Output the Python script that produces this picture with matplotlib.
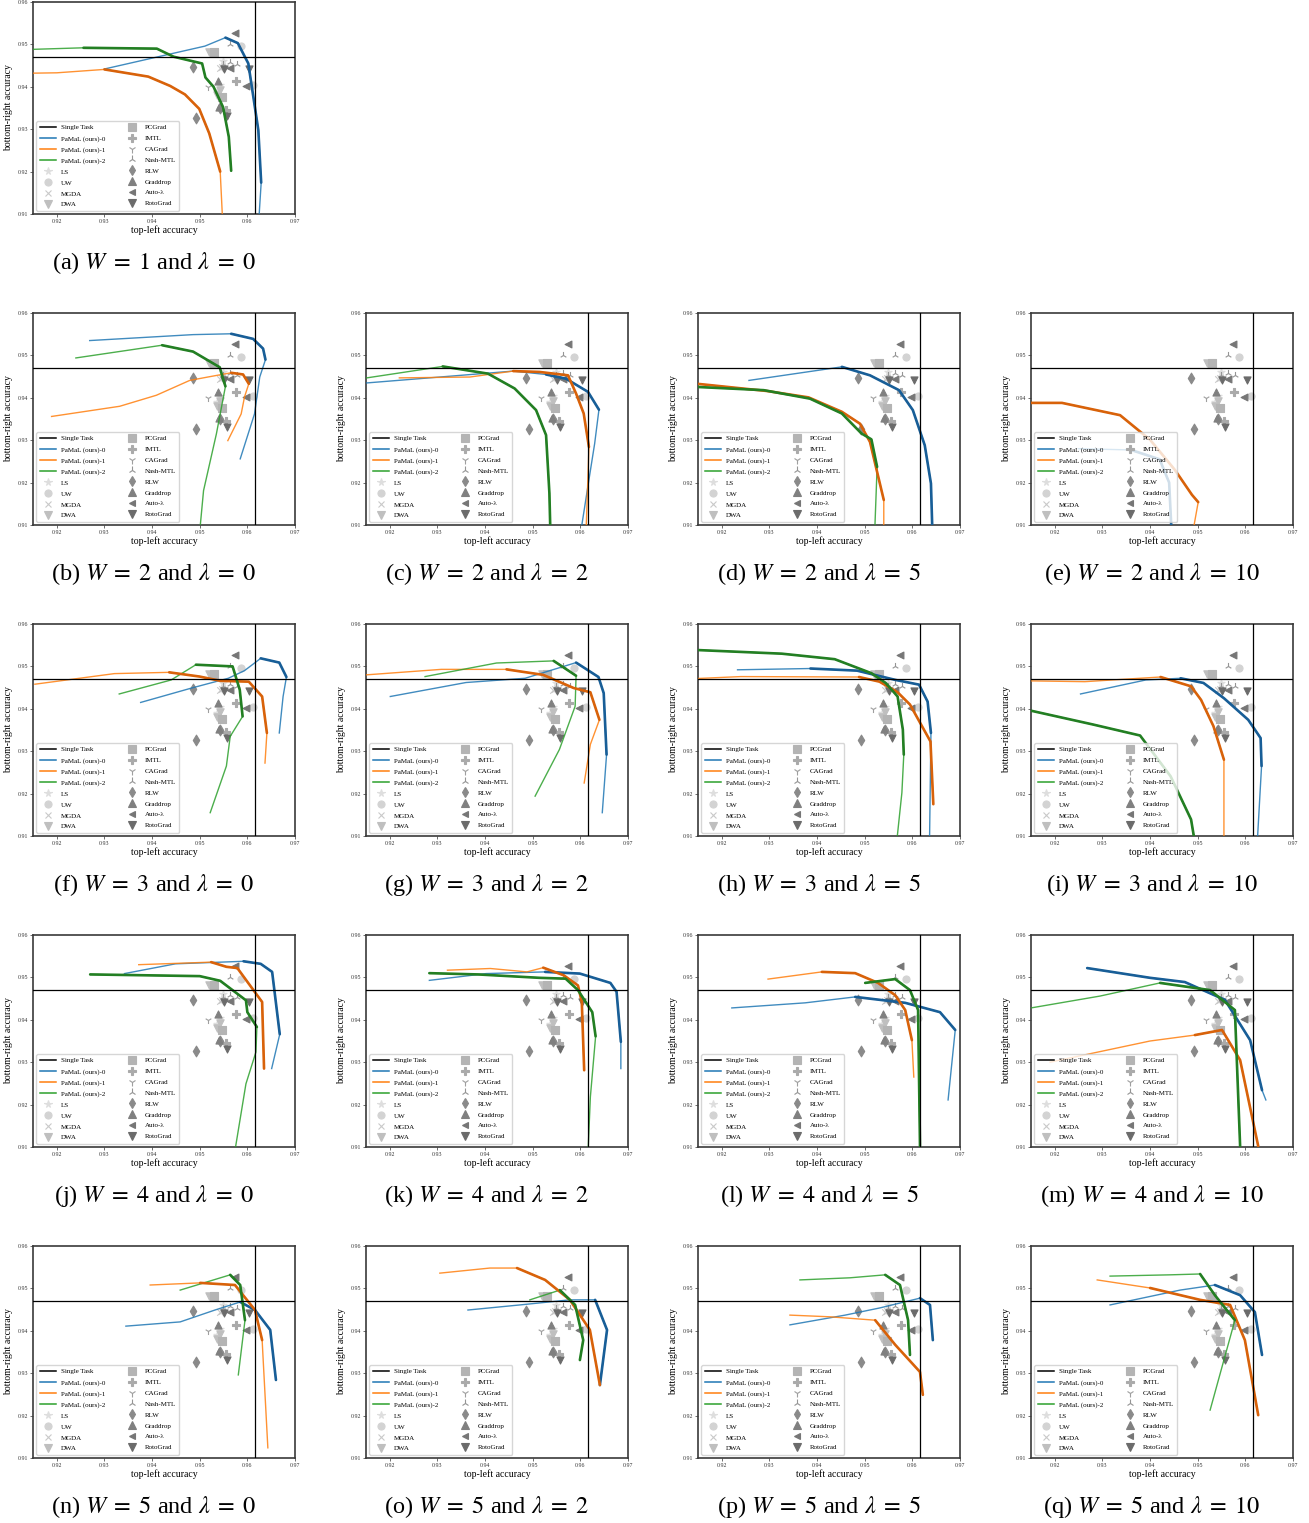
import numpy as np
import matplotlib
matplotlib.use("Agg")
import matplotlib.pyplot as plt
from matplotlib.lines import Line2D

plt.rcParams["font.family"] = ["Liberation Serif", "DejaVu Serif"]
plt.rcParams["mathtext.fontset"] = "stix"

# ------------------------------------------------------------------
# Reference accuracies
# ------------------------------------------------------------------
SINGLE_TASK_X = 0.9616   # top-left accuracy of the single-task model
SINGLE_TASK_Y = 0.9471   # bottom-right accuracy of the single-task model

# Baseline methods (top-left acc, bottom-right acc)
LS_PTS = [(0.9548, 0.9462), (0.9542, 0.9405), (0.9537, 0.9390)]
UW_PTS = [(0.9587, 0.9497), (0.9611, 0.9404)]
MGDA_PTS = [(0.9542, 0.9444), (0.9546, 0.9447)]
DWA_PTS = [(0.9519, 0.9481), (0.9543, 0.9393), (0.9536, 0.9381)]
PCGRAD_PTS = [(0.9531, 0.9483), (0.9547, 0.9375)]
IMTL_PTS = [(0.9577, 0.9414), (0.9555, 0.9346)]
CAGRAD_PTS = [(0.9517, 0.9399)]
NASH_PTS = [(0.9563, 0.9501), (0.9563, 0.9459), (0.9578, 0.9454), (0.9549, 0.9454)]
RLW_PTS = [(0.9486, 0.9447), (0.9493, 0.9327), (0.9543, 0.9350)]
GRADDROP_PTS = [(0.9538, 0.9413), (0.9540, 0.9353)]
AUTOL_PTS = [(0.9573, 0.9528), (0.9564, 0.9445), (0.9597, 0.9401)]
ROTOGRAD_PTS = [(0.9552, 0.9442), (0.9603, 0.9442), (0.9557, 0.9332)]

METHOD_NAMES = ["LS", "UW", "MGDA", "DWA", "PCGrad", "IMTL", "CAGrad",
                "Nash-MTL", "RLW", "Graddrop", "Auto-λ", "RotoGrad"]

# ------------------------------------------------------------------
# PaMaL curves: points along each task-weight path, plus the index
# range of the points that lie inside the trained simplex.
# ------------------------------------------------------------------
PANEL_LETTERS = list("abcdefghijklmnopq")
W_VALUES = [1, 2, 2, 2, 2, 3, 3, 3, 3, 4, 4, 4, 4, 5, 5, 5, 5]
LAMBDA_VALUES = [0, 0, 2, 5, 10, 0, 2, 5, 10, 0, 2, 5, 10, 0, 2, 5, 10]

a_0 = [(0.9300, 0.9442), (0.9511, 0.9496), (0.9554, 0.9516), (0.9580, 0.9503), (0.9602, 0.9455),
       (0.9623, 0.9298), (0.9629, 0.9174), (0.9624, 0.9085)]
a_1 = [(0.9140, 0.9432), (0.9200, 0.9433), (0.9300, 0.9441), (0.9392, 0.9424), (0.9438, 0.9402),
       (0.9469, 0.9382), (0.9499, 0.9348), (0.9520, 0.9290), (0.9543, 0.9200), (0.9548, 0.9085)]
a_2 = [(0.9140, 0.9488), (0.9256, 0.9492), (0.9410, 0.9490), (0.9445, 0.9471), (0.9505, 0.9455),
       (0.9512, 0.9422), (0.9529, 0.9400), (0.9549, 0.9352), (0.9561, 0.9282), (0.9566, 0.9202)]
a_in = [(2, 6), (2, 8), (1, 9)]

b_0 = [(0.9269, 0.9535), (0.9486, 0.9549), (0.9566, 0.9551), (0.9612, 0.9539), (0.9633, 0.9516),
       (0.9638, 0.9490), (0.9626, 0.9449), (0.9615, 0.9362), (0.9585, 0.9256)]
b_1 = [(0.9189, 0.9356), (0.9332, 0.9380), (0.9409, 0.9406), (0.9479, 0.9441), (0.9517, 0.9449),
       (0.9566, 0.9459), (0.9591, 0.9455), (0.9603, 0.9433), (0.9594, 0.9402), (0.9587, 0.9362),
       (0.9559, 0.9299)]
b_2 = [(0.9240, 0.9494), (0.9421, 0.9524), (0.9486, 0.9509), (0.9542, 0.9472), (0.9550, 0.9441),
       (0.9554, 0.9427), (0.9535, 0.9315), (0.9508, 0.9181), (0.9500, 0.9085)]
b_in = [(2, 5), (5, 7), (1, 5)]

c_0 = [(0.9140, 0.9434), (0.9305, 0.9449), (0.9459, 0.9463), (0.9528, 0.9455), (0.9570, 0.9445),
       (0.9616, 0.9414), (0.9639, 0.9372), (0.9630, 0.9292), (0.9619, 0.9214), (0.9601, 0.9085)]
c_1 = [(0.9220, 0.9447), (0.9368, 0.9449), (0.9459, 0.9463), (0.9514, 0.9461), (0.9574, 0.9453),
       (0.9591, 0.9410), (0.9607, 0.9363), (0.9618, 0.9284), (0.9612, 0.9085)]
c_2 = [(0.9140, 0.9445), (0.9311, 0.9474), (0.9406, 0.9457), (0.9462, 0.9422), (0.9507, 0.9371),
       (0.9528, 0.9312), (0.9535, 0.9175), (0.9537, 0.9085)]
c_in = [(3, 6), (2, 7), (1, 7)]

d_0 = [(0.9257, 0.9441), (0.9452, 0.9473), (0.9511, 0.9453), (0.9572, 0.9418), (0.9601, 0.9371),
       (0.9626, 0.9288), (0.9639, 0.9198), (0.9642, 0.9085)]
d_1 = [(0.9140, 0.9434), (0.9295, 0.9416), (0.9382, 0.9401), (0.9452, 0.9367), (0.9490, 0.9339),
       (0.9511, 0.9296), (0.9540, 0.9159), (0.9540, 0.9085)]
d_2 = [(0.9140, 0.9426), (0.9288, 0.9418), (0.9385, 0.9398), (0.9452, 0.9363), (0.9493, 0.9316),
       (0.9514, 0.9302), (0.9526, 0.9237), (0.9521, 0.9085)]
d_in = [(1, 7), (0, 6), (0, 6)]

e_0 = [(0.9250, 0.9280), (0.9360, 0.9277), (0.9420, 0.9255), (0.9440, 0.9200), (0.9445, 0.9085)]
e_1 = [(0.9140, 0.9388), (0.9215, 0.9388), (0.9337, 0.9359), (0.9400, 0.9301), (0.9452, 0.9230),
       (0.9488, 0.9171), (0.9501, 0.9154), (0.9490, 0.9085)]
e_2 = []
e_in = [(1, 4), (0, 6), (0, 0)]

f_0 = [(0.9376, 0.9415), (0.9483, 0.9449), (0.9560, 0.9472), (0.9594, 0.9490), (0.9628, 0.9519),
       (0.9667, 0.9509), (0.9682, 0.9475), (0.9675, 0.9429), (0.9667, 0.9343)]
f_1 = [(0.9154, 0.9458), (0.9321, 0.9483), (0.9436, 0.9486), (0.9500, 0.9476), (0.9543, 0.9466),
       (0.9603, 0.9464), (0.9631, 0.9429), (0.9641, 0.9343), (0.9637, 0.9272)]
f_2 = [(0.9331, 0.9435), (0.9440, 0.9468), (0.9492, 0.9504), (0.9569, 0.9500), (0.9584, 0.9445),
       (0.9590, 0.9382), (0.9564, 0.9335), (0.9556, 0.9265), (0.9522, 0.9155)]
f_in = [(4, 6), (2, 7), (2, 5)]

g_0 = [(0.9201, 0.9429), (0.9360, 0.9462), (0.9484, 0.9472), (0.9591, 0.9509), (0.9638, 0.9475),
       (0.9649, 0.9437), (0.9655, 0.9292), (0.9646, 0.9155)]
g_1 = [(0.9150, 0.9480), (0.9308, 0.9493), (0.9445, 0.9493), (0.9522, 0.9480), (0.9586, 0.9449),
       (0.9621, 0.9439), (0.9640, 0.9374), (0.9621, 0.9316), (0.9608, 0.9225)]
g_2 = [(0.9274, 0.9476), (0.9424, 0.9508), (0.9544, 0.9513), (0.9591, 0.9478), (0.9589, 0.9406),
       (0.9556, 0.9304), (0.9505, 0.9194)]
g_in = [(3, 6), (2, 6), (2, 3)]

h_0 = [(0.9233, 0.9492), (0.9386, 0.9495), (0.9484, 0.9490), (0.9565, 0.9468), (0.9614, 0.9457),
       (0.9632, 0.9417), (0.9639, 0.9343), (0.9636, 0.9085)]
h_1 = [(0.9140, 0.9471), (0.9240, 0.9476), (0.9488, 0.9475), (0.9531, 0.9464), (0.9569, 0.9439),
       (0.9595, 0.9410), (0.9638, 0.9323), (0.9644, 0.9175)]
h_2 = [(0.9140, 0.9539), (0.9326, 0.9530), (0.9437, 0.9517), (0.9514, 0.9484), (0.9544, 0.9461),
       (0.9569, 0.9429), (0.9580, 0.9351), (0.9582, 0.9292), (0.9578, 0.9202), (0.9567, 0.9085)]
h_in = [(1, 6), (2, 7), (0, 7)]

i_0 = [(0.9254, 0.9435), (0.9391, 0.9468), (0.9464, 0.9472), (0.9512, 0.9461), (0.9555, 0.9425),
       (0.9606, 0.9374), (0.9632, 0.9331), (0.9634, 0.9265), (0.9625, 0.9085)]
i_1 = [(0.9140, 0.9466), (0.9263, 0.9464), (0.9422, 0.9475), (0.9486, 0.9453), (0.9507, 0.9421),
       (0.9533, 0.9359), (0.9555, 0.9280), (0.9555, 0.9085)]
i_2 = [(0.9140, 0.9398), (0.9280, 0.9363), (0.9379, 0.9337), (0.9443, 0.9241), (0.9486, 0.9139),
       (0.9494, 0.9085)]
i_in = [(2, 7), (2, 6), (0, 5)]

j_0 = [(0.9342, 0.9509), (0.9449, 0.9532), (0.9592, 0.9538), (0.9628, 0.9532), (0.9652, 0.9513),
       (0.9668, 0.9366), (0.9651, 0.9285)]
j_1 = [(0.9372, 0.9530), (0.9524, 0.9536), (0.9556, 0.9525), (0.9579, 0.9522), (0.9603, 0.9485),
       (0.9631, 0.9442), (0.9635, 0.9285)]
j_2 = [(0.9270, 0.9507), (0.9500, 0.9503), (0.9543, 0.9492), (0.9597, 0.9446), (0.9600, 0.9418),
       (0.9620, 0.9383), (0.9618, 0.9324), (0.9597, 0.9249), (0.9573, 0.9085)]
j_in = [(2, 5), (1, 6), (0, 5)]

k_0 = [(0.9283, 0.9493), (0.9402, 0.9509), (0.9526, 0.9513), (0.9599, 0.9509), (0.9663, 0.9487),
       (0.9676, 0.9466), (0.9685, 0.9348), (0.9685, 0.9285)]
k_1 = [(0.9321, 0.9517), (0.9411, 0.9521), (0.9488, 0.9513), (0.9522, 0.9523), (0.9565, 0.9505),
       (0.9595, 0.9481), (0.9603, 0.9442), (0.9608, 0.9281)]
k_2 = [(0.9283, 0.9510), (0.9385, 0.9507), (0.9514, 0.9499), (0.9569, 0.9497), (0.9595, 0.9470),
       (0.9625, 0.9418), (0.9632, 0.9361), (0.9621, 0.9218), (0.9616, 0.9085)]
k_in = [(2, 6), (3, 7), (0, 6)]

l_0 = [(0.9221, 0.9428), (0.9375, 0.9440), (0.9480, 0.9454), (0.9585, 0.9440), (0.9658, 0.9418),
       (0.9690, 0.9376), (0.9675, 0.9211)]
l_1 = [(0.9297, 0.9496), (0.9410, 0.9513), (0.9480, 0.9510), (0.9528, 0.9487), (0.9564, 0.9458),
       (0.9585, 0.9423), (0.9599, 0.9352), (0.9603, 0.9265)]
l_2 = [(0.9501, 0.9487), (0.9564, 0.9496), (0.9595, 0.9470), (0.9612, 0.9423), (0.9616, 0.9102)]
l_in = [(2, 5), (1, 6), (0, 4)]

m_0 = [(0.9268, 0.9522), (0.9400, 0.9499), (0.9473, 0.9489), (0.9557, 0.9447), (0.9610, 0.9352),
       (0.9635, 0.9234), (0.9643, 0.9211)]
m_1 = [(0.9190, 0.9300), (0.9400, 0.9350), (0.9494, 0.9364), (0.9551, 0.9376), (0.9589, 0.9305),
       (0.9627, 0.9102)]
m_2 = [(0.9150, 0.9428), (0.9295, 0.9456), (0.9421, 0.9487), (0.9526, 0.9470), (0.9578, 0.9423),
       (0.9589, 0.9102)]
m_in = [(0, 5), (2, 5), (2, 5)]

n_0 = [(0.9345, 0.9411), (0.9459, 0.9421), (0.9532, 0.9449), (0.9585, 0.9468), (0.9616, 0.9449),
       (0.9648, 0.9402), (0.9660, 0.9284)]
n_1 = [(0.9396, 0.9508), (0.9501, 0.9513), (0.9574, 0.9508), (0.9616, 0.9449), (0.9631, 0.9378),
       (0.9643, 0.9124)]
n_2 = [(0.9459, 0.9496), (0.9564, 0.9532), (0.9585, 0.9508), (0.9595, 0.9425), (0.9581, 0.9296)]
n_in = [(3, 6), (1, 4), (1, 3)]

o_0 = [(0.9364, 0.9449), (0.9473, 0.9461), (0.9578, 0.9473), (0.9631, 0.9473), (0.9656, 0.9402),
       (0.9641, 0.9272)]
o_1 = [(0.9305, 0.9536), (0.9410, 0.9548), (0.9467, 0.9548), (0.9526, 0.9520), (0.9578, 0.9473),
       (0.9620, 0.9402), (0.9641, 0.9272)]
o_2 = [(0.9494, 0.9473), (0.9557, 0.9496), (0.9589, 0.9461), (0.9606, 0.9378), (0.9599, 0.9331)]
o_in = [(3, 5), (2, 6), (1, 4)]

p_0 = [(0.9343, 0.9414), (0.9459, 0.9437), (0.9532, 0.9454), (0.9616, 0.9477), (0.9637, 0.9461),
       (0.9643, 0.9378)]
p_1 = [(0.9343, 0.9437), (0.9427, 0.9433), (0.9522, 0.9425), (0.9564, 0.9367), (0.9616, 0.9303),
       (0.9622, 0.9249)]
p_2 = [(0.9364, 0.9520), (0.9469, 0.9525), (0.9543, 0.9532), (0.9574, 0.9508), (0.9591, 0.9425),
       (0.9595, 0.9343)]
p_in = [(3, 5), (2, 5), (2, 5)]

q_0 = [(0.9316, 0.9461), (0.9463, 0.9496), (0.9536, 0.9508), (0.9589, 0.9484), (0.9620, 0.9444),
       (0.9635, 0.9343)]
q_1 = [(0.9289, 0.9520), (0.9400, 0.9501), (0.9505, 0.9473), (0.9568, 0.9461), (0.9599, 0.9378),
       (0.9627, 0.9201)]
q_2 = [(0.9316, 0.9529), (0.9442, 0.9532), (0.9505, 0.9534), (0.9536, 0.9484), (0.9578, 0.9425),
       (0.9526, 0.9213)]
q_in = [(2, 5), (1, 5), (2, 4)]

PANEL_CURVES = {
    "a": ((a_0, a_1, a_2), a_in), "b": ((b_0, b_1, b_2), b_in),
    "c": ((c_0, c_1, c_2), c_in), "d": ((d_0, d_1, d_2), d_in),
    "e": ((e_0, e_1, e_2), e_in), "f": ((f_0, f_1, f_2), f_in),
    "g": ((g_0, g_1, g_2), g_in), "h": ((h_0, h_1, h_2), h_in),
    "i": ((i_0, i_1, i_2), i_in), "j": ((j_0, j_1, j_2), j_in),
    "k": ((k_0, k_1, k_2), k_in), "l": ((l_0, l_1, l_2), l_in),
    "m": ((m_0, m_1, m_2), m_in), "n": ((n_0, n_1, n_2), n_in),
    "o": ((o_0, o_1, o_2), o_in), "p": ((p_0, p_1, p_2), p_in),
    "q": ((q_0, q_1, q_2), q_in),
}

BASELINE_PTS = [LS_PTS, UW_PTS, MGDA_PTS, DWA_PTS, PCGRAD_PTS, IMTL_PTS, CAGRAD_PTS,
                NASH_PTS, RLW_PTS, GRADDROP_PTS, AUTOL_PTS, ROTOGRAD_PTS]

# ------------------------------------------------------------------
# Styling
# ------------------------------------------------------------------
THIN_COLORS = ["#1f77b4", "#ff7f0e", "#2ca02c"]
THICK_COLORS = ["#185e97", "#d8620a", "#237f23"]
SERIES_LABELS = ["PaMaL (ours)-0", "PaMaL (ours)-1", "PaMaL (ours)-2"]
MARKERS = ["*", "o", "x", "v", "s", "P", "1", "2", "d", "^", "<", "v"]
MARKER_SIZES = [30, 26, 22, 28, 26, 28, 26, 26, 30, 26, 24, 26]
GREYS = [str(g) for g in np.linspace(0.87, 0.42, 12)]

W_PX, H_PX = 1309, 1523
AX_LEFT = [33, 366, 698, 1031]
AX_TOP = [2, 313, 624, 935, 1246]
AX_W, AX_H = 262, 212

fig = plt.figure(figsize=(W_PX / 100, H_PX / 100), dpi=100)

legend_handles = [Line2D([], [], color="black", lw=1.1, label="Single Task")]
for col, lab in zip(THIN_COLORS, SERIES_LABELS):
    legend_handles.append(Line2D([], [], color=col, lw=1.1, label=lab))
for name, mk, grey, sz in zip(METHOD_NAMES, MARKERS, GREYS, MARKER_SIZES):
    legend_handles.append(Line2D([], [], ls="none", marker=mk, color=grey,
                                 markersize=np.sqrt(sz) * 1.0, markeredgewidth=0.8,
                                 label=name))

for idx, letter in enumerate(PANEL_LETTERS):
    if idx == 0:
        r, c = 0, 0
    else:
        r, c = 1 + (idx - 1) // 4, (idx - 1) % 4
    left, top = AX_LEFT[c], AX_TOP[r]
    ax = fig.add_axes([left / W_PX, 1 - (top + AX_H) / H_PX, AX_W / W_PX, AX_H / H_PX])

    # baseline methods
    for pts, mk, grey, sz in zip(BASELINE_PTS, MARKERS, GREYS, MARKER_SIZES):
        xs, ys = zip(*pts)
        ax.scatter(xs, ys, marker=mk, s=sz, color=grey, linewidths=0.8, zorder=2)

    # PaMaL curves: full path thin, in-simplex part thick
    series, ranges = PANEL_CURVES[letter]
    for k, (pts, (i0, i1)) in enumerate(zip(series, ranges)):
        if not pts:
            continue
        xs = [p[0] for p in pts]
        ys = [p[1] for p in pts]
        ax.plot(xs, ys, color=THIN_COLORS[k], lw=1.0, alpha=0.85, zorder=3)
        if i1 > i0:
            ax.plot(xs[i0:i1 + 1], ys[i0:i1 + 1], color=THICK_COLORS[k], lw=1.9,
                    zorder=4, solid_capstyle="round", solid_joinstyle="round")

    ax.axvline(SINGLE_TASK_X, color="black", lw=0.9, zorder=5)
    ax.axhline(SINGLE_TASK_Y, color="black", lw=0.9, zorder=5)

    ax.set_xlim(0.915, 0.97)
    ax.set_ylim(0.91, 0.96)
    ax.set_xticks([0.92, 0.93, 0.94, 0.95, 0.96, 0.97])
    ax.set_yticks([0.91, 0.92, 0.93, 0.94, 0.95, 0.96])
    ax.set_xticklabels(["0.92", "0.93", "0.94", "0.95", "0.96", "0.97"])
    ax.set_yticklabels(["0.91", "0.92", "0.93", "0.94", "0.95", "0.96"])
    ax.tick_params(labelsize=4.2, length=2, width=0.5, pad=1.5, colors="#333333")
    for sp in ax.spines.values():
        sp.set_color("#3a3a3a")
        sp.set_linewidth(1.2)
    ax.set_xlabel("top-left accuracy", fontsize=7, labelpad=1)
    ax.set_ylabel("bottom-right accuracy", fontsize=7, labelpad=3)

    leg = ax.legend(handles=legend_handles, loc="lower left", ncol=2, fontsize=5.0,
                    handlelength=2.3, handletextpad=0.75, columnspacing=2.7,
                    labelspacing=0.72, borderpad=0.45, borderaxespad=0.5,
                    framealpha=0.8, edgecolor="0.8", fancybox=True)
    leg.set_zorder(10)

    fig.text((left + 121) / W_PX, 1 - (top + AX_H + 49) / H_PX,
             f"({letter}) $W\\;=\\;{W_VALUES[idx]}$ and $\\lambda\\;=\\;{LAMBDA_VALUES[idx]}$",
             ha="center", va="center", fontsize=17.5)

fig.savefig("out.png", dpi=100)
